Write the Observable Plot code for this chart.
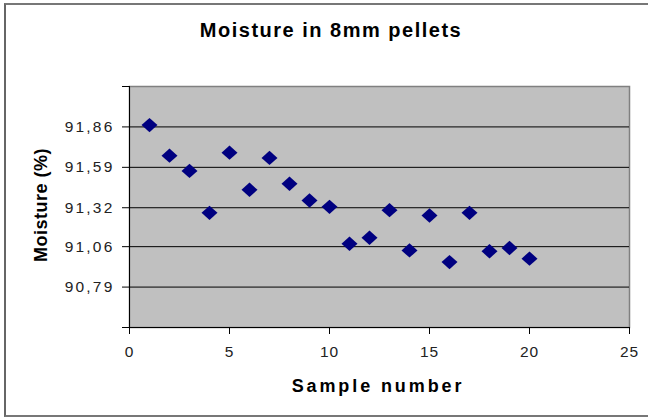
<!DOCTYPE html>
<html>
<head>
<meta charset="utf-8">
<script src="https://cdn.jsdelivr.net/npm/d3@7"></script>
<script src="https://cdn.jsdelivr.net/npm/@observablehq/plot@0.6"></script>
<style>
  html, body { margin: 0; padding: 0; background: #fff; }
  #wrap { position: relative; width: 648px; height: 420px; overflow: hidden; font-family: "Liberation Sans", Arial, sans-serif; }
  #border { position: absolute; left: 4px; top: 3px; width: 660px; height: 414px; border-left: 2px solid #666; border-top: 2px solid #777; border-bottom: 2px solid #777; box-sizing: border-box; }
  .lbl { position: absolute; font-weight: bold; line-height: 1; white-space: nowrap; color: #000; transform: translate(-50%, -50%); }
  #title { left: 331px; top: 30px; font-size: 20px; letter-spacing: 1.5px; }
  #xlabel { left: 378px; top: 386px; font-size: 18px; letter-spacing: 2.9px; }
  #ylabel { left: 41px; top: 205px; font-size: 18px; letter-spacing: 0.5px; transform: translate(-50%, -50%) rotate(-90deg); }
  #chart { position: absolute; left: 0; top: 0; }
  #chart g[aria-label="y-axis tick label"] text { letter-spacing: 2.2px; }
  #chart g[aria-label="x-axis tick label"] text { letter-spacing: 1px; }
</style>
</head>
<body>
<div id="wrap">
  <div id="border"></div>
  <div id="chart"></div>
  <div id="title" class="lbl">Moisture in 8mm pellets</div>
  <div id="xlabel" class="lbl">Sample number</div>
  <div id="ylabel" class="lbl">Moisture (%)</div>
</div>
<script>
// Data
const sampleNumbers = [1, 2, 3, 4, 5, 6, 7, 8, 9, 10, 11, 12, 13, 14, 15, 16, 17, 18, 19, 20];
const moisture = [91.872, 91.668, 91.566, 91.286, 91.688, 91.44, 91.653, 91.48, 91.368, 91.326,
                  91.079, 91.12, 91.304, 91.035, 91.268, 90.957, 91.286, 91.029, 91.051, 90.98];

// Axis settings / tick labels
const xDomain = [0, 25];
const xTicks = [0, 5, 10, 15, 20, 25];
const yDomain = [90.52, 92.13];
const yTickValues = [90.79, 91.06, 91.32, 91.59, 91.86];
const yTickLabels = ["90,79", "91,06", "91,32", "91,59", "91,86"];

const data = sampleNumbers.map((s, i) => ({sample: s, moisture: moisture[i]}));

const diamond = {
  draw(ctx, size) {
    const r = Math.sqrt(size / Math.PI);
    ctx.moveTo(0, -r * 0.9);
    ctx.lineTo(r, 0);
    ctx.lineTo(0, r * 0.9);
    ctx.lineTo(-r, 0);
    ctx.closePath();
  }
};

const chart = Plot.plot({
  width: 648,
  height: 420,
  marginLeft: 129,
  marginRight: 19,
  marginTop: 86,
  marginBottom: 93,
  style: {fontFamily: "Liberation Sans, Arial, sans-serif", fontSize: "15.5px", background: "transparent", overflow: "visible"},
  x: {domain: xDomain, label: null},
  y: {domain: yDomain, label: null},
  marks: [
    Plot.frame({fill: "#c0c0c0", stroke: "#808080", strokeWidth: 1.5}),
    Plot.gridY(yTickValues, {stroke: "#000", strokeOpacity: 1, strokeWidth: 1}),
    Plot.axisY(yTickValues, {
      tickSize: 7, tickPadding: 8, tickFormat: (d, i) => yTickLabels[i],
      fill: "#222", stroke: "#000", strokeOpacity: 1, label: null,
      fontSize: 15.5
    }),
    Plot.axisY(yDomain, {tickSize: 7, tickFormat: () => "", stroke: "#000", strokeOpacity: 1, label: null}),
    Plot.axisX(xTicks, {
      tickSize: 7, tickPadding: 11, tickFormat: d => String(d),
      fill: "#222", stroke: "#000", strokeOpacity: 1, label: null,
      fontSize: 15.5
    }),
    Plot.ruleX([xDomain[0]], {stroke: "#000", strokeWidth: 1}),
    Plot.ruleY([yDomain[0]], {stroke: "#000", strokeWidth: 1}),
    Plot.dot(data, {x: "sample", y: "moisture", symbol: diamond, r: 8, fill: "#000080", stroke: "none"})
  ]
});
document.getElementById("chart").appendChild(chart);
</script>
</body>
</html>
